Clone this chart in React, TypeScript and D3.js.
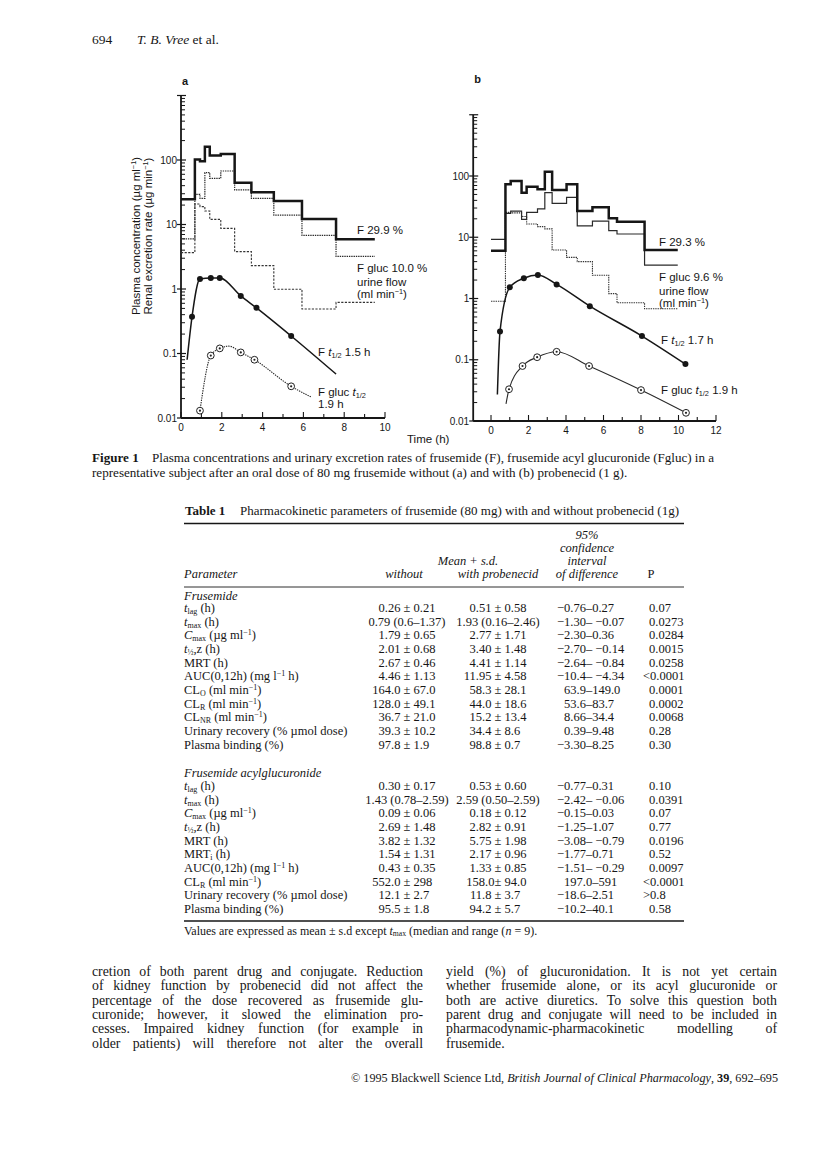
import React from 'react';
import * as d3 from 'd3';

const SERIF = "'Liberation Serif', 'Times New Roman', serif";
const SANS = "'Liberation Sans', Arial, sans-serif";
const INK = '#161616';

// ---------------- Figure 1a (without probenecid) ----------------
const aIntervalT = [0, 0.68, 0.93, 1.17, 1.41, 1.95, 2.63, 3.45, 4.55, 5.93, 7.6, 9.5];
const aFRate = [24.7, 102, 96, 160, 117, 124, 44.5, 31.5, 23.2, 12.2, 5.9];
const aGlucRate = [6.0, 29.4, 25.5, 63.6, 52, 67.5, 34.3, 25.5, 14.0, 6.8, 3.2];
const aUrineFlow = [3.67, 20.8, 18.9, 16.2, 12.0, 8.7, 3.8, 2.3, 0.99, 0.49, 0.62];
const aFObsT = [0.54, 0.93, 1.46, 1.9, 2.93, 3.7, 5.4];
const aFObsC = [0.37, 1.43, 1.48, 1.48, 0.78, 0.51, 0.187];
const aFFitT = [0.3, 0.54, 0.93, 1.46, 1.9, 2.93, 3.7, 5.4, 7.6];
const aFFitC = [0.08, 0.37, 1.43, 1.48, 1.48, 0.78, 0.51, 0.187, 0.048];
const aGObsT = [0.93, 1.46, 1.9, 2.93, 3.6, 5.4];
const aGObsC = [0.013, 0.093, 0.12, 0.104, 0.08, 0.031];
const aGFitT = [0.93, 1.46, 1.9, 2.35, 2.93, 3.6, 5.4, 6.4];
const aGFitC = [0.013, 0.093, 0.12, 0.13, 0.104, 0.08, 0.031, 0.021];

// ---------------- Figure 1b (with probenecid) ----------------
const bIntervalT = [0, 0.77, 1.05, 1.63, 1.9, 2.48, 2.87, 3.26, 4.03, 4.6, 5.41, 6.28, 6.72, 8.19, 9.96];
const bFRate = [6.0, 73, 83, 53.4, 67, 60.6, 117, 59, 73, 26.9, 30.8, 20.4, 17.9, 6.2];
const bGlucRate = [9.25, 24.6, 26.8, 19.6, 25.5, 29, 53.4, 35.8, 44.9, 15.3, 18.4, 12.8, 11.3, 3.5];
const bUrineFlow = [0.9, 25.5, 25, 21.8, 16.5, 14.9, 13.7, 6.2, 4.7, 4.0, 2.4, 1.2, 0.85, 0.68];
const bFObsT = [0.48, 1.0, 1.75, 2.5, 3.5, 5.27, 8.05, 10.37];
const bFObsC = [0.29, 1.52, 2.14, 2.42, 1.7, 0.75, 0.244, 0.085];
const bFFitT = [0.34, 0.48, 1.0, 1.75, 2.5, 3.5, 5.27, 8.05, 10.37];
const bFFitC = [0.027, 0.29, 1.52, 2.14, 2.42, 1.7, 0.75, 0.244, 0.085];
const bGObsT = [0.96, 1.68, 2.46, 3.5, 5.23, 8.0, 10.4];
const bGObsC = [0.033, 0.079, 0.11, 0.135, 0.079, 0.032, 0.0136];
const bGFitT = [0.8, 0.96, 1.68, 2.46, 3.5, 5.23, 8.0, 10.4];
const bGFitC = [0.019, 0.033, 0.079, 0.11, 0.135, 0.079, 0.032, 0.0136];

const yTickLabels = ['0.01', '0.1', '1', '10', '100'];

// ---------------- Table 1 ----------------
const tableHeadMid = ['Mean + s.d.'];
const frusLabels = ['*t*_{lag} (h)', '*t*_{max} (h)', '*C*_{max} (µg ml^{−1})', '*t*_{½},z (h)', 'MRT (h)', 'AUC(0,12h) (mg l^{−1} h)', 'CL_{O} (ml min^{−1})', 'CL_{R} (ml min^{−1})', 'CL_{NR} (ml min^{−1})', 'Urinary recovery (% µmol dose)', 'Plasma binding (%)'];
const frusWithout = ['0.26 ± 0.21', '0.79 (0.6–1.37)', '1.79 ± 0.65', '2.01 ± 0.68', '2.67 ± 0.46', '4.46 ± 1.13', '164.0 ± 67.0', '128.0 ± 49.1', '36.7 ± 21.0', '39.3 ± 10.2', '97.8 ± 1.9'];
const frusWith = ['0.51 ± 0.58', '1.93 (0.16–2.46)', '2.77 ± 1.71', '3.40 ± 1.48', '4.41 ± 1.14', '11.95 ± 4.58', '58.3 ± 28.1', '44.0 ± 18.6', '15.2 ± 13.4', '34.4 ± 8.6', '98.8 ± 0.7'];
const frusCI = ['−0.76–0.27', '−1.30– −0.07', '−2.30–0.36', '−2.70– −0.14', '−2.64– −0.84', '−10.4– −4.34', '63.9–149.0', '53.6–83.7', '8.66–34.4', '0.39–9.48', '−3.30–8.25'];
const frusP = ['0.07', '0.0273', '0.0284', '0.0015', '0.0258', '<0.0001', '0.0001', '0.0002', '0.0068', '0.28', '0.30'];

const glucLabels = ['*t*_{lag} (h)', '*t*_{max} (h)', '*C*_{max} (µg ml^{−1})', '*t*_{½},z (h)', 'MRT (h)', 'MRT_{i} (h)', 'AUC(0,12h) (mg l^{−1} h)', 'CL_{R} (ml min^{−1})', 'Urinary recovery (% µmol dose)', 'Plasma binding (%)'];
const glucWithout = ['0.30 ± 0.17', '1.43 (0.78–2.59)', '0.09 ± 0.06', '2.69 ± 1.48', '3.82 ± 1.32', '1.54 ± 1.31', '0.43 ± 0.35', '552.0 ± 298', '12.1 ± 2.7', '95.5 ± 1.8'];
const glucWith = ['0.53 ± 0.60', '2.59 (0.50–2.59)', '0.18 ± 0.12', '2.82 ± 0.91', '5.75 ± 1.98', '2.17 ± 0.96', '1.33 ± 0.85', '158.0± 94.0', '11.8 ± 3.7', '94.2 ± 5.7'];
const glucCI = ['−0.77–0.31', '−2.42– −0.06', '−0.15–0.03', '−1.25–1.07', '−3.08– −0.79', '−1.77–0.71', '−1.51– −0.29', '197.0–591', '−18.6–2.51', '−10.2–40.1'];
const glucP = ['0.10', '0.0391', '0.07', '0.77', '0.0196', '0.52', '0.0097', '<0.0001', '>0.8', '0.58'];

// ---------------- Body text ----------------
const leftColumn = [
  'cretion of both parent drug and conjugate. Reduction',
  'of kidney function by probenecid did not affect the',
  'percentage of the dose recovered as frusemide glu-',
  'curonide; however, it slowed the elimination pro-',
  'cesses. Impaired kidney function (for example in',
  'older patients) will therefore not alter the overall',
];
const rightColumn = [
  'yield (%) of glucuronidation. It is not yet certain',
  'whether frusemide alone, or its acyl glucuronide or',
  'both are active diuretics. To solve this question both',
  'parent drug and conjugate will need to be included in',
  'pharmacodynamic-pharmacokinetic modelling of',
  'frusemide.',
];

let ctx: CanvasRenderingContext2D | null = null;
function measure(text: string, font: string) {
  if (!ctx) ctx = document.createElement('canvas').getContext('2d');
  ctx!.font = font;
  return ctx!.measureText(text).width;
}

function rich(str: string, fs: number) {
  const parts = str.split(/(\*[^*]+\*|_\{[^}]+\}|\^\{[^}]+\})/).filter(Boolean);
  let off = 0;
  return parts.map((p, i) => {
    let txt = p, target = 0, size = fs, italic = false;
    if (p.startsWith('*')) { txt = p.slice(1, -1); italic = true; }
    else if (p.startsWith('_{')) { txt = p.slice(2, -1); target = fs * 0.16; size = fs * 0.64; }
    else if (p.startsWith('^{')) { txt = p.slice(2, -1); target = -fs * 0.32; size = fs * 0.64; }
    const dy = target - off; off = target;
    return <tspan key={i} dy={dy} fontSize={size} fontStyle={italic ? 'italic' : undefined}>{txt}</tspan>;
  });
}

function JustLine({ x, y, width, text, size, justify }: any) {
  if (!justify) return <text x={x} y={y} fontSize={size}>{text}</text>;
  const font = `${size}px 'Liberation Serif'`;
  const words = text.split(' ');
  const ws = words.map((w: string) => measure(w, font));
  const total = ws.reduce((a: number, b: number) => a + b, 0);
  const gap = (width - total) / (words.length - 1);
  let cx = x;
  return (
    <text y={y} fontSize={size}>
      {words.map((w: string, i: number) => { const el = <tspan key={i} x={cx}>{w}</tspan>; cx += ws[i] + gap; return el; })}
    </text>
  );
}

function Panel({ p }: any) {
  const x = d3.scaleLinear().domain(p.xDomain).range(p.xRange);
  const y = d3.scaleLog().domain([0.01, 1000]).range(p.yRange);
  const step = d3.line<[number, number]>().x(d => x(d[0])).y(d => y(d[1])).curve(d3.curveStepAfter);
  const fit = d3.line<[number, number]>().x(d => x(d[0])).y(d => y(d[1])).curve(d3.curveMonotoneX);
  const stepPts = (vals: number[]) => {
    const pts: [number, number][] = vals.map((v, i) => [p.intervals[i], v]);
    pts.push([p.intervals[vals.length], vals[vals.length - 1]]);
    return pts;
  };
  const zip = (t: number[], c: number[]) => t.map((tt, i) => [tt, c[i]] as [number, number]);
  const ax0 = x(p.xDomain[0]);
  const yBottom = y(0.01);
  const minors: number[] = [];
  for (let k = -2; k <= 2; k++) for (let m = 2; m <= 9; m++) minors.push(m * Math.pow(10, k));
  const majors = [0.01, 0.1, 1, 10, 100, 1000];
  const xt = d3.range(p.xTickMin, p.xTickMax + 1);
  return (
    <g>
      <line x1={ax0} x2={ax0} y1={yBottom} y2={y(1000)} stroke={INK} strokeWidth={1.8} />
      <line x1={ax0} x2={x(p.xTickMax)} y1={yBottom} y2={yBottom} stroke={INK} strokeWidth={1.8} />
      {minors.map((v, i) => <line key={'mi' + i} x1={ax0} x2={ax0 + 4} y1={y(v)} y2={y(v)} stroke={INK} strokeWidth={1} />)}
      {majors.map((v, i) => <line key={'ma' + i} x1={ax0 - 4} x2={ax0 + 5} y1={y(v)} y2={y(v)} stroke={INK} strokeWidth={1.2} />)}
      {yTickLabels.map((l, i) => (
        <text key={'yl' + i} x={ax0 - 4} y={y(majors[i]) + 3.5} fontSize={10} textAnchor="end" fontFamily={SANS}>{l}</text>
      ))}
      {xt.map((t) => (
        <line key={'xt' + t} x1={x(t)} x2={x(t)} y1={yBottom} y2={yBottom - (t % 2 === 0 ? 6 : 4)} stroke={INK} strokeWidth={1.1} />
      ))}
      {xt.filter(t => t % 2 === 0).map((t) => (
        <text key={'xl' + t} x={x(t)} y={yBottom + 13} fontSize={10} textAnchor="middle" fontFamily={SANS}>{t}</text>
      ))}
      <path d={step(stepPts(p.urine))!} fill="none" stroke="#333" strokeWidth={1.1} strokeDasharray={p.urineDash} />
      <path d={step(stepPts(p.gluc))!} fill="none" stroke="#2a2a2a" strokeWidth={1.2} strokeDasharray={p.glucDash} />
      <path d={step(stepPts(p.fRate))!} fill="none" stroke={INK} strokeWidth={2.5} />
      <path d={fit(zip(p.fFitT, p.fFitC))!} fill="none" stroke={INK} strokeWidth={1.5} />
      <path d={fit(zip(p.gFitT, p.gFitC))!} fill="none" stroke="#2a2a2a" strokeWidth={1.1} strokeDasharray={p.gPlasmaDash} />
      {zip(p.fObsT, p.fObsC).map((d, i) => <circle key={'f' + i} cx={x(d[0])} cy={y(d[1])} r={3} fill={INK} />)}
      {zip(p.gObsT, p.gObsC).map((d, i) => (
        <g key={'g' + i}>
          <circle cx={x(d[0])} cy={y(d[1])} r={3.4} fill="#fff" stroke="#222" strokeWidth={1} />
          <circle cx={x(d[0])} cy={y(d[1])} r={1.1} fill="#222" />
        </g>
      ))}
      <g fontFamily={SANS} fontSize={11.5} fill={INK}>
        <text x={p.lx} y={p.fLabelY}>{p.fLabel}</text>
        <text x={p.lx} y={p.gLabelY}>{p.gLabel}</text>
        <text x={p.lx} y={p.gLabelY + 14}>urine flow</text>
        <text x={p.lx} y={p.gLabelY + 26}>{rich('(ml min^{−1})', 11.5)}</text>
        <text x={p.tx} y={p.fHalfY}>{rich(p.fHalf, 11.5)}</text>
        <text x={p.tx} y={p.gHalfY}>{rich(p.gHalf, 11.5)}</text>
        {p.gHalf2 && <text x={p.tx} y={p.gHalfY + 12}>{p.gHalf2}</text>}
        <text x={ax0 + 1} y={p.panelLabelY} fontWeight="bold" fontSize={11}>{p.panelLabel}</text>
      </g>
    </g>
  );
}

const panelA = {
  xDomain: [0, 10], xRange: [181, 385], yRange: [418, 95.5], xTickMin: 0, xTickMax: 10,
  intervals: aIntervalT, fRate: aFRate, gluc: aGlucRate, urine: aUrineFlow,
  fObsT: aFObsT, fObsC: aFObsC, fFitT: aFFitT, fFitC: aFFitC,
  gObsT: aGObsT, gObsC: aGObsC, gFitT: aGFitT, gFitC: aGFitC,
  urineDash: '2.2 1.4', glucDash: '1.4 0.9', gPlasmaDash: '1.4 1',
  lx: 357, fLabel: 'F 29.9 %', fLabelY: 234, gLabel: 'F gluc 10.0 %', gLabelY: 272,
  tx: 318, fHalf: 'F *t*_{1/2} 1.5 h', fHalfY: 356, gHalf: 'F gluc *t*_{1/2}', gHalf2: '1.9 h', gHalfY: 396,
  panelLabel: 'a', panelLabelY: 85,
};
const panelB = {
  xDomain: [-0.95, 12], xRange: [473.2, 716], yRange: [421, 114.75], xTickMin: 0, xTickMax: 12,
  intervals: bIntervalT, fRate: bFRate, gluc: bGlucRate, urine: bUrineFlow,
  fObsT: bFObsT, fObsC: bFObsC, fFitT: bFFitT, fFitC: bFFitC,
  gObsT: bGObsT, gObsC: bGObsC, gFitT: bGFitT, gFitC: bGFitC,
  urineDash: '1.4 0.9', glucDash: undefined, gPlasmaDash: undefined,
  lx: 659, fLabel: 'F 29.3 %', fLabelY: 246, gLabel: 'F gluc 9.6 %', gLabelY: 281,
  tx: 661, fHalf: 'F *t*_{1/2} 1.7 h', fHalfY: 344, gHalf: 'F gluc *t*_{1/2} 1.9 h', gHalf2: null, gHalfY: 394,
  panelLabel: 'b', panelLabelY: 83,
};

function ValueCell({ v, cx, y }: any) {
  const idx = v.indexOf('±');
  if (idx < 0) return <text x={cx} y={y} textAnchor="middle">{v}</text>;
  const left = v.slice(0, idx).trim();
  const right = v.slice(idx + 1).trim();
  const tight = v[idx - 1] !== ' ';
  return (
    <g>
      <text x={cx - (tight ? 3.6 : 6.6)} y={y} textAnchor="end">{left}</text>
      <text x={cx} y={y} textAnchor="middle">±</text>
      <text x={cx + 6.6} y={y}>{right}</text>
    </g>
  );
}

function TableRows({ labels, w0, w1, ci, pv, y0, fs }: any) {
  const dy = 13.65;
  return (
    <g>
      {labels.map((l: string, i: number) => {
        const y = y0 + i * dy;
        return (
          <g key={i}>
            <text x={184} y={y}>{rich(l, fs)}</text>
            <ValueCell v={w0[i]} cx={407} y={y} />
            <ValueCell v={w1[i]} cx={498} y={y} />
            <text x={ci[i].startsWith('−') ? 557 : 564} y={y}>{ci[i]}</text>
            <text x={/^[<>]/.test(pv[i]) ? 643 : 649} y={y}>{pv[i]}</text>
          </g>
        );
      })}
    </g>
  );
}

export default function App() {
  const colL = 92, colR = 446, colW = 331;
  const bodyY0 = 976, lead = 14.3, bodyFs = 13.8;
  const capFs = 13.1, tabFs = 12.5;
  return (
    <svg width={816} height={1170} style={{ position: 'absolute', left: 0, top: 0, background: '#fff' }}
      fontFamily={SERIF} fill={INK}>
      <rect width={816} height={1170} fill="#fff" />
      <text x={92} y={44} fontSize={13.5}>694</text>
      <text x={137} y={44} fontSize={13.5}><tspan fontStyle="italic">T. B. Vree</tspan> et  al.</text>

      <g fontFamily={SANS} fontSize={11.5}>
        <text transform="translate(140,236) rotate(-90)" textAnchor="middle">{rich('Plasma concentration (µg ml^{−1})', 11.5)}</text>
        <text transform="translate(152,236) rotate(-90)" textAnchor="middle">{rich('Renal excretion rate (µg min^{−1})', 11.5)}</text>
      </g>
      <Panel p={panelA} />
      <Panel p={panelB} />
      <text x={407} y={443} fontFamily={SANS} fontSize={11.5}>Time (h)</text>

      {/* caption */}
      <text x={92} y={462} fontSize={capFs} fontWeight="bold">Figure 1</text>
      <JustLine x={152} y={462} width={562} size={capFs} justify
        text="Plasma concentrations and urinary excretion rates of frusemide (F), frusemide acyl glucuronide (Fgluc) in a" />
      <text x={92} y={476.5} fontSize={capFs}>representative subject after an oral dose of 80 mg frusemide without (a) and with (b) probenecid (1 g).</text>

      {/* table */}
      <g fontSize={tabFs}>
        <text x={185} y={515} fontSize={13}><tspan fontWeight="bold">Table 1</tspan></text>
        <text x={240} y={515} fontSize={13}>Pharmacokinetic parameters of frusemide (80 mg) with and without probenecid (1g)</text>
        <line x1={184} x2={684} y1={523.5} y2={523.5} stroke={INK} strokeWidth={1.6} />
        <g fontStyle="italic" textAnchor="middle">
          <text x={587} y={539}>95%</text>
          <text x={587} y={552}>confidence</text>
          <text x={587} y={564.5}>interval</text>
          <text x={468} y={564.5}>{tableHeadMid[0]}</text>
          <text x={587} y={578}>of difference</text>
          <text x={404} y={578}>without</text>
          <text x={498} y={578}>with probenecid</text>
          <text x={184} y={578} textAnchor="start">Parameter</text>
        </g>
        <text x={651} y={578} textAnchor="middle">P</text>
        <line x1={184} x2={684} y1={587} y2={587} stroke={INK} strokeWidth={0.9} />
        <text x={184} y={599.5} fontStyle="italic">Frusemide</text>
        <TableRows labels={frusLabels} w0={frusWithout} w1={frusWith} ci={frusCI} pv={frusP} y0={612} fs={tabFs} />
        <text x={184} y={776.5} fontStyle="italic">Frusemide acylglucuronide</text>
        <TableRows labels={glucLabels} w0={glucWithout} w1={glucWith} ci={glucCI} pv={glucP} y0={790} fs={tabFs} />
        <line x1={184} x2={684} y1={921} y2={921} stroke={INK} strokeWidth={1.6} />
        <text x={184} y={934.5} fontSize={12}>{rich('Values are expressed as mean ± s.d except *t*_{max} (median and range (*n* = 9).', 12)}</text>
      </g>

      {/* body text */}
      {leftColumn.map((l, i) => (
        <JustLine key={'l' + i} x={colL} y={bodyY0 + i * lead} width={colW} size={bodyFs} text={l} justify />
      ))}
      {rightColumn.map((l, i) => (
        <JustLine key={'r' + i} x={colR} y={bodyY0 + i * lead} width={colW} size={bodyFs} text={l} justify={i < rightColumn.length - 1} />
      ))}
      <text x={778} y={1082} fontSize={12.2} textAnchor="end">© 1995 Blackwell Science Ltd, <tspan fontStyle="italic">British Journal of Clinical Pharmacology</tspan>, <tspan fontWeight="bold">39</tspan>, 692–695</text>
    </svg>
  );
}
